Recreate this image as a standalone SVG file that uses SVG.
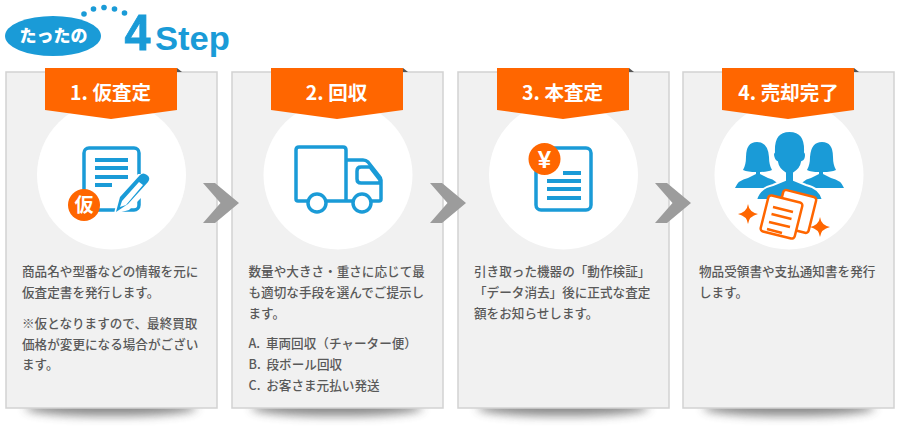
<svg xmlns="http://www.w3.org/2000/svg" width="900" height="427" viewBox="0 0 900 427">
<style>
.b{fill:#f1f1f1;stroke:#d2d2d2;stroke-width:1.5}
.o{fill:#ff6600}
.t{font-family:"Noto Sans CJK JP","Liberation Sans",sans-serif;font-size:12.6px;font-weight:500;fill:#595959}
.h{font-family:"Noto Sans CJK JP","Liberation Sans",sans-serif;font-size:19.5px;font-weight:700;fill:#fff;text-anchor:middle}
.s{fill:none;stroke:#1a9bd7;stroke-width:3.5;stroke-linejoin:round}
.l{fill:#1a9bd7}
.sh{fill:#444;opacity:.62}
</style>
<defs>
<filter id="blur" x="-20%" y="-150%" width="140%" height="400%"><feGaussianBlur stdDeviation="5"/></filter>
<g id="ribbon"><path d="M132 68l5 4h-5z" fill="#555"/><path class="o" d="M0 68H132V110L66 119 0 110Z"/></g>
<path id="chev" d="M0 0H12L36 20 12 40H0L17.500 20Z" fill="#9c9c9c"/>
</defs>
<g id="title">
<ellipse cx="53" cy="36" rx="48" ry="20" fill="#1a9bd7"/>
<text x="53.500" y="42" text-anchor="middle" font-family="Noto Sans CJK JP,sans-serif" font-size="17" font-weight="900" fill="#fff">たったの</text>
<g fill="#1a9bd7"><circle cx="84" cy="14" r="2.800"/><circle cx="93.500" cy="9" r="2.800"/><circle cx="104" cy="7.500" r="2.800"/><circle cx="114.500" cy="9" r="2.800"/><circle cx="124.500" cy="13" r="2.800"/></g>
<text x="124.500" y="50" font-family="Liberation Sans,sans-serif" font-size="50" font-weight="700" fill="#1a9bd7" stroke="#1a9bd7" stroke-width=".8" textLength="26" lengthAdjust="spacingAndGlyphs">4</text>
<text x="155" y="50" font-family="Liberation Sans,sans-serif" font-size="33" font-weight="700" fill="#1a9bd7" textLength="75" lengthAdjust="spacingAndGlyphs">Step</text>
</g>
<g id="step1">
<ellipse class="sh" cx="111" cy="408" rx="86" ry="8" filter="url(#blur)"/>
<rect class="b" x="6" y="72" width="211" height="336"/>
<circle cx="111.500" cy="175" r="74.500" fill="#fff"/>
<use href="#ribbon" x="45"/>
<text class="h" x="110.500" y="100">1. 仮査定</text>
<rect class="s" x="84" y="148" width="55" height="62" rx="5"/>
<path d="M95 158h33v4H95zM95 166h33v4H95zM95 175h33v4H95zM95 183h17v4H95z" class="l"/>
<path d="M114 214l4-19 20-21 6 0 8 8-1 6-22 22z" fill="#fff"/>
<path d="M116 212l4-15 20-22q3-3 7 0t1 7l-20 22zM120 207l6-2 17-20-4-3-17 19z" class="l" fill-rule="evenodd"/>
<circle cx="84" cy="205" r="16" class="o"/>
<text x="84" y="211.500" text-anchor="middle" font-family="Noto Sans CJK JP,sans-serif" font-size="19" font-weight="700" fill="#fff">仮</text>
<text class="t"><tspan x="22" y="276">商品名や型番などの情報を元に</tspan><tspan x="22" y="297">仮査定書を発行します。</tspan><tspan x="22" y="328">※仮となりますので、最終買取</tspan><tspan x="22" y="349">価格が変更になる場合がござい</tspan><tspan x="22" y="369">ます。</tspan></text>
</g>
<g id="step2">
<ellipse class="sh" cx="337" cy="408" rx="86" ry="8" filter="url(#blur)"/>
<rect class="b" x="232" y="72" width="211" height="336"/>
<circle cx="338" cy="175" r="74.500" fill="#fff"/>
<use href="#ribbon" x="271"/>
<text class="h" x="336.500" y="100">2. 回収</text>
<path class="s" d="M307 201h-9q-2 0-2-2V150q0-3 3-3h44q3 0 3 3v51h-21M346 160h17q3 0 5 2l11 14q2 2 2 4v19q0 2-2 2h-8M346 201h6"/>
<path class="s" d="M361 167h9l10 13v3h-19q-4 0-4-4v-8q0-4 4-4z" stroke-width="3"/>
<circle class="s" cx="317" cy="203" r="9"/><circle class="s" cx="362" cy="203" r="9"/>
<text class="t"><tspan x="248.500" y="276">数量や大きさ・重さに応じて最</tspan><tspan x="248.500" y="297">も適切な手段を選んでご提示し</tspan><tspan x="248.500" y="318">ます。</tspan><tspan x="248.500" y="348">A. <tspan dx="3">車両回収（チャーター便）</tspan></tspan><tspan x="248.500" y="369">B. <tspan dx="3">段ボール回収</tspan></tspan><tspan x="248.500" y="390">C. <tspan dx="3">お客さま元払い発送</tspan></tspan></text>
</g>
<g id="step3">
<ellipse class="sh" cx="563" cy="408" rx="86" ry="8" filter="url(#blur)"/>
<rect class="b" x="458" y="72" width="211" height="336"/>
<circle cx="563.500" cy="175" r="74.500" fill="#fff"/>
<use href="#ribbon" x="497"/>
<text class="h" x="562.500" y="100">3. 本査定</text>
<rect class="s" x="536" y="148" width="55" height="62" rx="5"/>
<path class="l" d="M563 171h18v4h-18zM547 179h34v4h-34zM547 187h34v4h-34zM547 196h34v4h-34z"/>
<circle class="o" cx="544.500" cy="159" r="16"/>
<text x="544.500" y="167.500" text-anchor="middle" font-family="Liberation Sans,sans-serif" font-size="24" font-weight="700" fill="#fff">¥</text>
<text class="t"><tspan x="474" y="276">引き取った機器の「動作検証」</tspan><tspan x="474" y="297">「データ消去」後に正式な査定</tspan><tspan x="474" y="318">額をお知らせします。</tspan></text>
</g>
<g id="step4">
<ellipse class="sh" cx="789" cy="408" rx="86" ry="8" filter="url(#blur)"/>
<rect class="b" x="683" y="72" width="211" height="336"/>
<circle cx="789" cy="175" r="74.500" fill="#fff"/>
<use href="#ribbon" x="722"/>
<text class="h" x="788.500" y="100">4. 売却完了</text>
<g class="l">
<path d="M735 188q3-8 13-10l8-4v-2q-8 0-13-2 3-5 3-13 0-15 11-15t12 15q0 8 3 13-4 2-12 2v2l8 4q5 1 8 4l6 6z"/>
<path d="M844 188q-3-8-13-10l-8-4v-2q8 0 13-2-3-5-3-13 0-15-11-15t-12 15q0 8-3 13 4 2 12 2v2l-8 4q-5 1-8 4l-6 6z"/>
<path d="M756 200q3-12 17-15l12-5v-7q-7-4-8-11-3-1-4-7 0-2 1-3-1-21 15.500-21t15.500 21q1 1 1 3 0 6-4 7-1 7-8 11v7l12 5q14 3 17 15z" stroke="#fff" stroke-width="2"/>
</g>
<rect x="-17" y="-18" width="34" height="37" rx="3" transform="translate(796 211) rotate(14)" fill="#fff" stroke="#ff6600" stroke-width="2.500"/>
<rect x="-17.500" y="-18.500" width="35" height="37" rx="3" transform="translate(781.500 217) rotate(14)" fill="#fff" stroke="#ff6600" stroke-width="2.500"/>
<path d="M773 207l20 5M771.500 214l20 5M769 222l21 5M767 229l15 4" stroke="#ff6600" stroke-width="2.500" fill="none"/>
<path class="o" d="M748 204q1 8 10 10-9 2-10 10-1-8-10-10 9-2 10-10ZM820 217q1 8 10 10-9 2-10 10-1-8-10-10 9-2 10-10Z"/>
<text class="t"><tspan x="699" y="276">物品受領書や支払通知書を発行</tspan><tspan x="699" y="297">します。</tspan></text>
</g>
<g id="connectors">
<use href="#chev" x="203" y="183"/>
<use href="#chev" x="430" y="183"/>
<use href="#chev" x="655" y="183"/>
</g>
</svg>
